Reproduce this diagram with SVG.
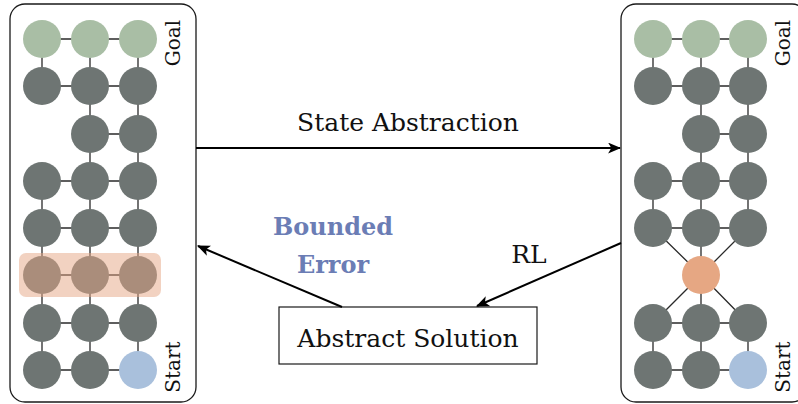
<svg xmlns="http://www.w3.org/2000/svg" width="798" height="404" viewBox="0 0 798 404">
<defs>
<style>
.panel{fill:#fff;stroke:#1a1a1a;stroke-width:1.3}
.e{stroke:#2a2a2a;stroke-width:1.3;fill:none}
.g{fill:#6e7573}
.goal{fill:#a9bea5}
.start{fill:#a9c0dc}
.abs{fill:#e6a783}
.hl{fill:#e6a583;fill-opacity:0.5}
.lbl{font-family:"DejaVu Serif",serif;font-size:20px;fill:#111}
.t{font-family:"DejaVu Serif",serif;font-size:25px;fill:#111}
.be{font-family:"DejaVu Serif",serif;font-size:24px;font-weight:bold;fill:#6b7db5}
.arr{stroke:#000;stroke-width:2;fill:none;marker-end:url(#ah)}
</style>
<marker id="ah" viewBox="0 0 12 10" refX="11" refY="5" markerWidth="6.5" markerHeight="5.5" orient="auto" markerUnits="strokeWidth">
<path d="M0,0 L12,5 L0,10 L3,5 Z" fill="#000"/>
</marker>
</defs>

<g id="left-panel">
<rect class="panel" x="10" y="4" width="186" height="398" rx="15"/>
<g class="e">
<path d="M42,39H138M42,86H138M90,134H138M42,181H138M42,228H138M42,275H138M42,323H138M42,370H138"/>
<path d="M42,39V86M90,39V86M138,39V86M90,86V134M138,86V134M90,134V181M138,134V181M42,181V370M90,181V370M138,181V370"/>
</g>
<g id="L-r0"><circle class="goal" cx="42" cy="39" r="19"/><circle class="goal" cx="90" cy="39" r="19"/><circle class="goal" cx="138" cy="39" r="19"/></g>
<g id="L-r1"><circle class="g" cx="42" cy="86" r="19"/><circle class="g" cx="90" cy="86" r="19"/><circle class="g" cx="138" cy="86" r="19"/></g>
<g id="L-r2"><circle class="g" cx="90" cy="134" r="19"/><circle class="g" cx="138" cy="134" r="19"/></g>
<g id="L-r3"><circle class="g" cx="42" cy="181" r="19"/><circle class="g" cx="90" cy="181" r="19"/><circle class="g" cx="138" cy="181" r="19"/></g>
<g id="L-r4"><circle class="g" cx="42" cy="228" r="19"/><circle class="g" cx="90" cy="228" r="19"/><circle class="g" cx="138" cy="228" r="19"/></g>
<g id="L-r5"><circle class="g" cx="42" cy="275" r="19"/><circle class="g" cx="90" cy="275" r="19"/><circle class="g" cx="138" cy="275" r="19"/></g>
<g id="L-r6"><circle class="g" cx="42" cy="323" r="19"/><circle class="g" cx="90" cy="323" r="19"/><circle class="g" cx="138" cy="323" r="19"/></g>
<g id="L-r7"><circle class="g" cx="42" cy="370" r="19"/><circle class="g" cx="90" cy="370" r="19"/><circle class="start" cx="138" cy="370" r="19"/></g>
<rect id="L-highlight" class="hl" x="19" y="253" width="142" height="44" rx="7"/>
<text class="lbl" transform="translate(180,43) rotate(-90)" text-anchor="middle">Goal</text>
<text class="lbl" transform="translate(180,367) rotate(-90)" text-anchor="middle">Start</text>
</g>

<g id="right-panel">
<rect class="panel" x="621" y="4" width="186" height="398" rx="15"/>
<g class="e">
<path d="M653,39H748M653,86H748M701,134H748M653,181H748M653,228H748M653,323H748M653,370H748"/>
<path d="M653,39V86M701,39V86M748,39V86M701,86V134M748,86V134M701,134V181M748,134V181M653,181V228M701,181V228M748,181V228M653,323V370M701,323V370M748,323V370"/>
<path d="M653,228L701,275L748,228M701,228V323M653,323L701,275L748,323"/>
</g>
<g id="R-r0"><circle class="goal" cx="653" cy="39" r="19"/><circle class="goal" cx="701" cy="39" r="19"/><circle class="goal" cx="748" cy="39" r="19"/></g>
<g id="R-r1"><circle class="g" cx="653" cy="86" r="19"/><circle class="g" cx="701" cy="86" r="19"/><circle class="g" cx="748" cy="86" r="19"/></g>
<g id="R-r2"><circle class="g" cx="701" cy="134" r="19"/><circle class="g" cx="748" cy="134" r="19"/></g>
<g id="R-r3"><circle class="g" cx="653" cy="181" r="19"/><circle class="g" cx="701" cy="181" r="19"/><circle class="g" cx="748" cy="181" r="19"/></g>
<g id="R-r4"><circle class="g" cx="653" cy="228" r="19"/><circle class="g" cx="701" cy="228" r="19"/><circle class="g" cx="748" cy="228" r="19"/></g>
<g id="R-abstract"><circle class="abs" cx="701" cy="275" r="19"/></g>
<g id="R-r6"><circle class="g" cx="653" cy="323" r="19"/><circle class="g" cx="701" cy="323" r="19"/><circle class="g" cx="748" cy="323" r="19"/></g>
<g id="R-r7"><circle class="g" cx="653" cy="370" r="19"/><circle class="g" cx="701" cy="370" r="19"/><circle class="start" cx="748" cy="370" r="19"/></g>
<text class="lbl" transform="translate(790,43) rotate(-90)" text-anchor="middle">Goal</text>
<text class="lbl" transform="translate(790,367) rotate(-90)" text-anchor="middle">Start</text>
</g>

<g id="abstract-solution">
<rect x="279" y="307" width="258" height="57" fill="#fff" stroke="#1a1a1a" stroke-width="1.2"/>
<text class="t" x="408" y="347" text-anchor="middle">Abstract Solution</text>
</g>

<g id="connectors">
<line class="arr" x1="196" y1="148" x2="620" y2="148"/>
<line class="arr" x1="342" y1="307" x2="198" y2="246"/>
<line class="arr" x1="621" y1="243" x2="477" y2="306"/>
</g>

<g id="labels">
<text class="t" x="408" y="131" text-anchor="middle">State Abstraction</text>
<text class="be" x="333" y="235" text-anchor="middle">Bounded</text>
<text class="be" x="333" y="273" text-anchor="middle">Error</text>
<text class="t" x="529" y="263" text-anchor="middle">RL</text>
</g>
</svg>
